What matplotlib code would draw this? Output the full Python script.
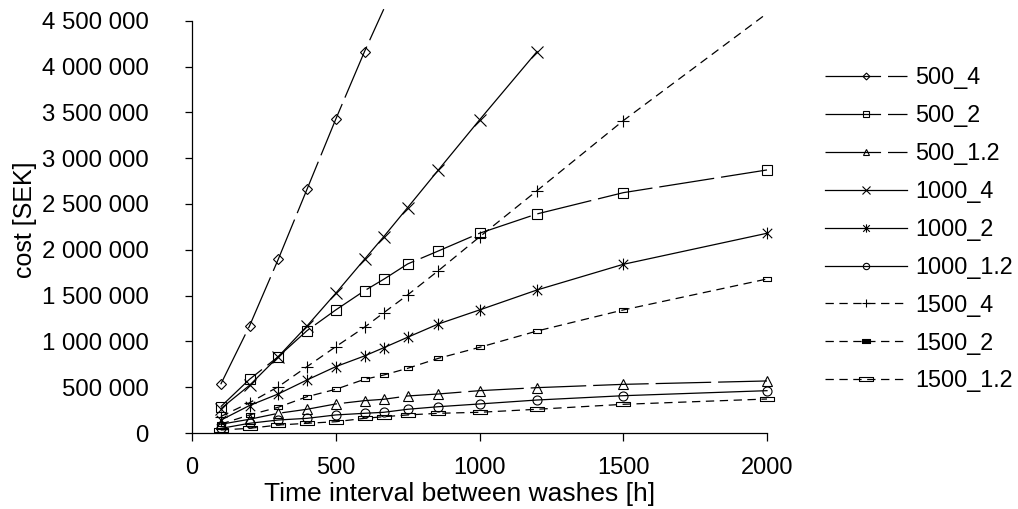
import numpy as np
import matplotlib
matplotlib.use("Agg")
import matplotlib.pyplot as plt
from matplotlib.lines import Line2D
from matplotlib.path import Path

plt.rcParams['font.family'] = ['Liberation Sans', 'DejaVu Sans']
plt.rcParams['lines.scale_dashes'] = False

hours = [100, 200, 300, 400, 500, 600, 667, 750, 857, 1000, 1200, 1500, 2000]
labels = ["500_4", "500_2", "500_1.2", "1000_4", "1000_2", "1000_1.2", "1500_4", "1500_2", "1500_1.2"]

cost_500_4 = [532e3, 1168e3, 1896e3, 2660e3, 3425e3, 4163e3, 4626e3]
cost_500_2 = [287e3, 586e3, 833e3, 1117e3, 1343e3, 1553e3, 1678e3, 1845e3, 1987e3, 2180e3, 2391e3, 2623e3, 2871e3]
cost_500_12 = [95e3, 150e3, 215e3, 259e3, 317e3, 353e3, 368e3, 404e3, 426e3, 462e3, 495e3, 531e3, 568e3]
cost_1000_4 = [265e3, 520e3, 833e3, 1168e3, 1525e3, 1896e3, 2143e3, 2460e3, 2871e3, 3417e3, 4163e3]
cost_1000_2 = [140e3, 300e3, 426e3, 579e3, 724e3, 841e3, 931e3, 1045e3, 1190e3, 1343e3, 1561e3, 1841e3, 2180e3]
cost_1000_12 = [50e3, 106e3, 142e3, 160e3, 197e3, 215e3, 226e3, 259e3, 287e3, 317e3, 360e3, 407e3, 462e3]
cost_1500_4 = [180e3, 330e3, 505e3, 724e3, 942e3, 1154e3, 1313e3, 1507e3, 1772e3, 2140e3, 2645e3, 3409e3, 4580e3]
cost_1500_2 = [97e3, 197e3, 281e3, 396e3, 477e3, 586e3, 633e3, 706e3, 815e3, 935e3, 1113e3, 1343e3, 1681e3]
cost_1500_12 = [33e3, 51e3, 87e3, 106e3, 123e3, 160e3, 178e3, 197e3, 215e3, 226e3, 259e3, 313e3, 371e3]
series = [cost_500_4, cost_500_2, cost_500_12, cost_1000_4, cost_1000_2, cost_1000_12, cost_1500_4, cost_1500_2, cost_1500_12]
# last point of these lies above the plot area: line drawn, marker not
hidden = {"500_4", "1500_4"}

asterisk = Path([(0, -1), (0, 1), (-0.8, -0.8), (0.8, 0.8), (-0.8, 0.8), (0.8, -0.8)],
                [Path.MOVETO, Path.LINETO] * 3)
wide_rect = [(-1, -0.3), (1, -0.3), (1, 0.3), (-1, 0.3), (-1, -0.3)]
small_rect = [(-1, -0.45), (1, -0.45), (1, 0.45), (-1, 0.45), (-1, -0.45)]
long_dash = (0, (40, 5))
short_dash = (0, (6, 4))
styles = {
    "500_4": dict(marker="D", ms=5, ls=long_dash),
    "500_2": dict(marker="s", ms=7, ls=long_dash),
    "500_1.2": dict(marker="^", ms=7, ls=long_dash),
    "1000_4": dict(marker="x", ms=8.5, ls="-"),
    "1000_2": dict(marker=asterisk, ms=8.5, ls="-"),
    "1000_1.2": dict(marker="o", ms=6.5, ls="-"),
    "1500_4": dict(marker="+", ms=8, ls=short_dash),
    "1500_2": dict(marker=small_rect, ms=6, ls=short_dash),
    "1500_1.2": dict(marker=wide_rect, ms=9.5, ls=short_dash),
}
# legend shows the rectangles larger, 1500_2 filled
legend_ms = {"1500_2": 8.5, "1500_1.2": 14}

fig = plt.figure(figsize=(10.18, 5.09), dpi=100)
ax = fig.add_axes([192/1018, 1-433/509, 575/1018, 412.3/509])
handles = []
for name, vals in zip(labels, series):
    st = styles[name]
    x = hours[:len(vals)]
    me = list(range(len(vals)-1)) if name in hidden else None
    ln, = ax.plot(x, vals, color="black", lw=0.9, mfc="none", mec="black", mew=0.8,
                  markevery=me, clip_on=False, **st)
    if name in legend_ms:
        st = dict(st, ms=legend_ms[name])
        ln = Line2D([], [], color="black", lw=0.9, mfc="black" if name == "1500_2" else "none",
                    mec="black", mew=0.8, **st)
    handles.append(ln)

ax.set_xlim(0, 2000); ax.set_ylim(0, 4.5e6)
ax.set_xticks(np.arange(0, 2001, 500))
ax.set_yticks(np.arange(0, 4.5e6+1, 5e5))
ax.set_yticklabels([f"{v:,.0f}".replace(",", " ") for v in ax.get_yticks()])
for s in ["top", "right"]:
    ax.spines[s].set_visible(False)
for s in ["left", "bottom"]:
    ax.spines[s].set_linewidth(0.9)
ax.tick_params(axis="y", direction="out", length=5, width=0.9, pad=26, labelsize=17.3)
ax.tick_params(axis="x", direction="out", length=6, width=0.9, pad=11, labelsize=17)
fig.text(25/1018, 1-220/509, "cost [SEK]", rotation=90, ha="center", va="center", fontsize=18)
fig.text(460/1018, 1-494/509, "Time interval between washes [h]", ha="center", va="center", fontsize=19)

fig.legend(handles, labels, loc="upper left", bbox_to_anchor=(825/1018, 1-66/509), frameon=False,
           fontsize=16.8, handlelength=3.5, handletextpad=0.35, labelspacing=0.64, markerscale=0.7,
           borderpad=0, borderaxespad=0)
fig.savefig("out.png", dpi=100)
